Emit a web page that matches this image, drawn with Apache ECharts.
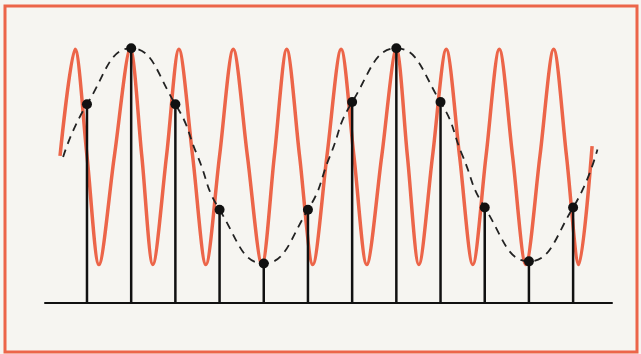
<!DOCTYPE html>
<html>
<head>
<meta charset="utf-8">
<script src="https://cdn.jsdelivr.net/npm/echarts@6/dist/echarts.min.js"></script>
<style>
  html, body { margin: 0; padding: 0; background: #f6f5f1; }
  #chart { width: 641px; height: 354px; }
</style>
</head>
<body>
<div id="chart"></div>
<script>
var sampleX = [0, 1, 2, 3, 4, 5, 6, 7, 8, 9, 10, 11];
var sampleY = [0.48, 1.0, 0.48, -0.5, -1.0, -0.5, 0.5, 1.0, 0.5, -0.48, -0.98, -0.48];

// fast red signal: crossings, peaks and troughs
var redX = [-0.61, -0.27, 0.0, 0.27, 0.62, 0.98, 1.24, 1.49, 1.8, 2.08, 2.39, 2.69,
            3.0, 3.31, 3.63, 3.96, 4.24, 4.52, 4.81, 5.11, 5.43, 5.75, 6.04, 6.33,
            6.67, 7.0, 7.25, 7.51, 7.82, 8.13, 8.43, 8.73, 9.03, 9.33, 9.63, 9.93,
            10.25, 10.56, 10.85, 11.13, 11.43];
var redY = [0, 0.99, 0, -1.01, 0, 0.99, 0, -1.01, 0, 0.99, 0, -1.01,
            0, 0.99, 0, -1.01, 0, 0.99, 0, -1.01, 0, 0.99, 0, -1.01,
            0, 0.99, 0, -1.01, 0, 0.99, 0, -1.01, 0, 0.99, 0, -1.01,
            0, 0.99, 0, -1.01, 0.09];

// slow dashed alias curve through the samples
var aliasX = [-0.54, 0, 1, 2, 2.5, 3, 4, 5, 5.5, 6, 7, 8, 8.5, 9, 10, 11, 11.55];
var aliasY = [-0.01, 0.48, 1.0, 0.48, 0, -0.5, -1.0, -0.5, 0, 0.5, 1.0, 0.5, 0, -0.48, -0.98, -0.48, 0.06];

var yMin = -1.367;

function pairs(xs, ys) {
  return xs.map(function (x, i) { return [x, ys[i]]; });
}

var chart = echarts.init(document.getElementById('chart'));

var option = {
  backgroundColor: '#f6f5f1',
  animation: false,
  graphic: [{
    type: 'rect',
    shape: { x: 5, y: 6, width: 632, height: 346 },
    style: { fill: 'none', stroke: '#ec6549', lineWidth: 3 },
    z: 100
  }],
  grid: { left: 45, right: 29, top: 16, bottom: 51 },
  xAxis: {
    type: 'value',
    min: -0.95,
    max: 11.88,
    axisLine: { show: true, onZero: false, lineStyle: { color: '#111', width: 2 } },
    axisTick: { show: false },
    axisLabel: { show: false },
    splitLine: { show: false }
  },
  yAxis: {
    type: 'value',
    min: yMin,
    max: 1.3,
    show: false,
    splitLine: { show: false }
  },
  series: [
    {
      type: 'line',
      data: pairs(redX, redY),
      smooth: 0.3,
      symbol: 'none',
      lineStyle: { color: '#ec6549', width: 3.5 },
      z: 1
    },
    {
      type: 'custom',
      data: pairs(sampleX, sampleY),
      renderItem: function (params, api) {
        var top = api.coord([api.value(0), api.value(1)]);
        var bottom = api.coord([api.value(0), yMin]);
        return {
          type: 'line',
          shape: { x1: top[0], y1: top[1], x2: bottom[0], y2: bottom[1] },
          style: { stroke: '#111', lineWidth: 2.5 }
        };
      },
      z: 2
    },
    {
      type: 'line',
      data: pairs(aliasX, aliasY),
      smooth: 0.5,
      symbol: 'none',
      lineStyle: { color: '#222', width: 1.8, type: [8, 6] },
      z: 3
    },
    {
      type: 'scatter',
      data: pairs(sampleX, sampleY),
      symbolSize: 10,
      itemStyle: { color: '#111', opacity: 1 },
      z: 4
    }
  ]
};

chart.setOption(option);
</script>
</body>
</html>
